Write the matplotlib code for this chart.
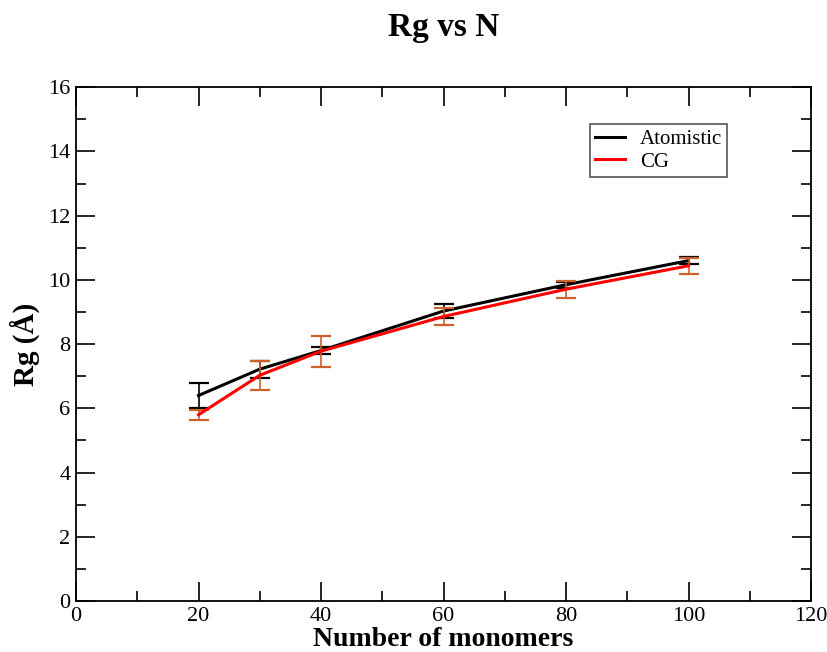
import numpy as np
import matplotlib
matplotlib.use("Agg")
import matplotlib.pyplot as plt
from matplotlib.ticker import MultipleLocator
from matplotlib.lines import Line2D

# Radius of gyration vs chain length
n_monomers = [20, 30, 40, 60, 80, 100]
rg_atomistic = [6.40, 7.22, 7.80, 9.03, 9.85, 10.60]
err_atomistic = [0.38, 0.26, 0.12, 0.23, 0.10, 0.10]
rg_cg = [5.80, 7.03, 7.78, 8.86, 9.71, 10.44]
err_cg = [0.16, 0.45, 0.48, 0.26, 0.27, 0.25]

plt.rcParams['font.family'] = ['Liberation Serif', 'DejaVu Serif']

fig = plt.figure(figsize=(8.27, 6.52), dpi=100)
ax = fig.add_axes([0.0919, 0.0782, 0.8888, 0.788])

ax.errorbar(n_monomers, rg_atomistic, yerr=err_atomistic, color='black', lw=2.2,
            ecolor='black', elinewidth=1.2, capsize=7, capthick=1.6, zorder=3)
ax.errorbar(n_monomers, rg_cg, yerr=err_cg, color='red', lw=2.2,
            ecolor='#d0602a', elinewidth=1.2, capsize=7, capthick=1.6, zorder=4)

ax.set_xlim(0, 120)
ax.set_ylim(0, 16)
ax.xaxis.set_major_locator(MultipleLocator(20))
ax.xaxis.set_minor_locator(MultipleLocator(10))
ax.yaxis.set_major_locator(MultipleLocator(2))
ax.yaxis.set_minor_locator(MultipleLocator(1))
ax.tick_params(which='both', direction='in', top=True, right=True, labelsize=16, pad=4)
ax.tick_params(which='major', length=14, width=1.2)
ax.tick_params(which='minor', length=7, width=1.2)
for sp in ax.spines.values():
    sp.set_linewidth(1.3)

ax.set_xlabel('Number of monomers', fontsize=20, fontweight='bold', labelpad=1)
ax.set_ylabel('Rg (Å)', fontsize=21, fontweight='bold', labelpad=6)
fig.text(0.536, 0.958, 'Rg vs N', fontsize=24, fontweight='bold', ha='center', va='center')

handles = [Line2D([], [], color='black', lw=2.2), Line2D([], [], color='red', lw=2.2)]
leg = ax.legend(handles, ['Atomistic', 'CG'], loc='upper left', bbox_to_anchor=(0.699, 0.928),
                fontsize=15, frameon=True, fancybox=False, edgecolor='#555555', framealpha=1,
                handlelength=1.45, borderpad=0.25, borderaxespad=0, labelspacing=0.15,
                handletextpad=0.7)
leg.get_frame().set_linewidth(1.2)

fig.savefig('out.png', dpi=100)
